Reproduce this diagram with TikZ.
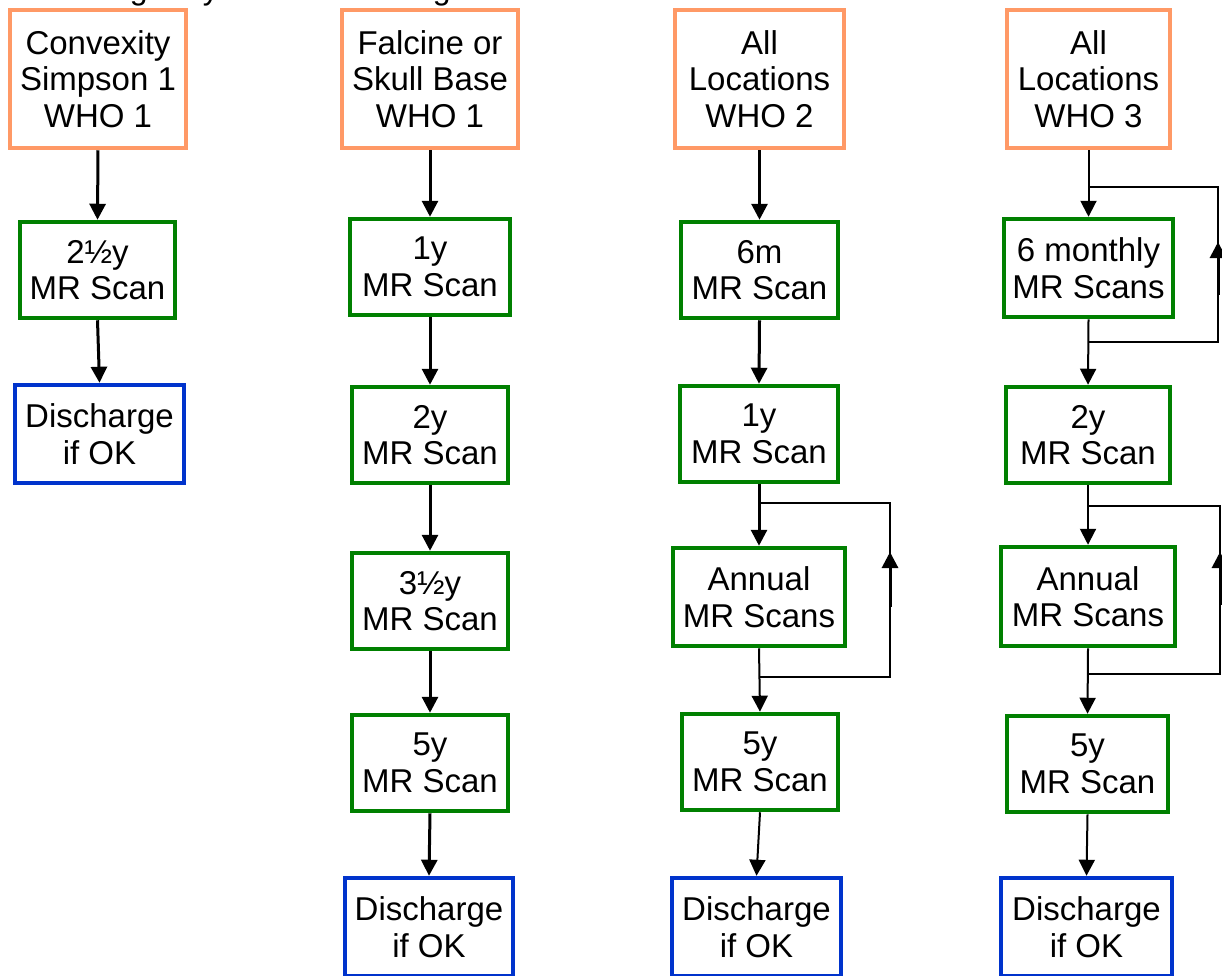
\documentclass[tikz,border=0pt]{standalone}
\usepackage{fontspec}
\setmainfont{Liberation Sans}
\usepackage{tikz}
\usetikzlibrary{
    positioning,
    arrows.meta
}
\definecolor{boxOrange}{RGB}{255, 153, 102}
\definecolor{boxGreen}{RGB}{0, 128, 0}
\definecolor{boxBlue}{RGB}{0, 51, 204}

\begin{document}
\begin{tikzpicture}[x=1pt, y=-1pt,
    box/.style={draw, line width=4.5pt, fill=white, align=center, inner sep=0pt,
        font=\fontsize{33}{36.5}\selectfont},
    orangebox/.style={box, draw=boxOrange, minimum height=138pt},
    greenbox/.style={box, draw=boxGreen, minimum height=96pt},
    bluebox/.style={box, draw=boxBlue, minimum height=98pt},
    flowarrow/.style={-{Triangle[width=16pt, length=16pt]}, line width=3pt},
    thinarrow/.style={-{Triangle[width=16pt, length=16pt]}, line width=2pt},
    loopline/.style={line width=2pt}
]
            \clip (0,0) rectangle (1222,975);
            \node[anchor=base west, inner sep=0pt, font=\fontsize{32}{36.5}\selectfont] (title) at (80,-1) {Surgically Treated Meningiomas};
            % convexity
            \node[orangebox, minimum width=176pt] (o1) at (98,79) {Convexity\\Simpson 1\\WHO 1};
            \node[greenbox, minimum width=155pt] (g1a) at (97.5,270) {2\textonehalf y\\MR Scan};
            \node[bluebox, minimum width=169pt] (b1) at (99.5,434) {Discharge\\if OK};
            \draw[flowarrow] (o1.south) -- (g1a.north);
            \draw[flowarrow] (g1a.south) -- (b1.north);
            % falcine / skull base
            \node[orangebox, minimum width=176pt] (o2) at (430,79) {Falcine or\\Skull Base\\WHO 1};
            \node[greenbox, minimum width=160pt] (g2a) at (430,267) {1y\\MR Scan};
            \node[greenbox, minimum width=156pt] (g2b) at (430,435) {2y\\MR Scan};
            \node[greenbox, minimum width=156pt] (g2c) at (430,601) {3\textonehalf y\\MR Scan};
            \node[greenbox, minimum width=156pt] (g2d) at (430,763) {5y\\MR Scan};
            \node[bluebox, minimum width=168pt] (b2) at (429,927) {Discharge\\if OK};
            \draw[flowarrow] (o2.south) -- (g2a.north);
            \draw[flowarrow] (g2a.south) -- (g2b.north);
            \draw[flowarrow] (g2b.south) -- (g2c.north);
            \draw[flowarrow] (g2c.south) -- (g2d.north);
            \draw[flowarrow] (g2d.south) -- (b2.north);
            % WHO 2
            \node[orangebox, minimum width=169pt] (o3) at (759.5,79) {All\\Locations\\WHO 2};
            \node[greenbox, minimum width=157pt] (g3a) at (759.5,270) {6m\\MR Scan};
            \node[greenbox, minimum width=158pt] (g3b) at (759,434) {1y\\MR Scan};
            \node[greenbox, minimum width=172pt, minimum height=98pt] (g3c) at (759,597) {Annual\\MR Scans};
            \node[greenbox, minimum width=156pt] (g3d) at (760,762) {5y\\MR Scan};
            \node[bluebox, minimum width=169pt] (b3) at (756.5,927) {Discharge\\if OK};
            \draw[flowarrow] (o3.south) -- (g3a.north);
            \draw[flowarrow] (g3a.south) -- (g3b.north);
            \draw[flowarrow] (g3b.south) -- (g3c.north);
            \draw[thinarrow] (g3c.south) -- (g3d.north);
            \draw[thinarrow] (g3d.south) -- (b3.north);
            \coordinate (l3a) at (759,503);
            \coordinate (l3b) at (759,677);
            \coordinate (l3r1) at (890,607);
            \coordinate (l3r2) at (890,552);
            \draw[loopline] (l3b) -| (l3r1) |- (l3a);
            \draw[flowarrow] (l3r1) -- (l3r2);
            % WHO 3
            \node[orangebox, minimum width=163pt] (o4) at (1088.5,79) {All\\Locations\\WHO 3};
            \node[greenbox, minimum width=169pt, minimum height=98pt] (g4a) at (1088.5,268) {6 monthly\\MR Scans};
            \node[greenbox, minimum width=164pt] (g4b) at (1088,435) {2y\\MR Scan};
            \node[greenbox, minimum width=174pt, minimum height=99pt] (g4c) at (1088,596.5) {Annual\\MR Scans};
            \node[greenbox, minimum width=161pt] (g4d) at (1087.5,764) {5y\\MR Scan};
            \node[bluebox, minimum width=171pt] (b4) at (1086.5,927) {Discharge\\if OK};
            \draw[thinarrow] (o4.south) -- (g4a.north);
            \draw[thinarrow] (g4a.south) -- (g4b.north);
            \draw[thinarrow] (g4b.south) -- (g4c.north);
            \draw[thinarrow] (g4c.south) -- (g4d.north);
            \draw[thinarrow] (g4d.south) -- (b4.north);
            \coordinate (l4a) at (1088,187);
            \coordinate (l4b) at (1088,342);
            \coordinate (l4r1) at (1218,295);
            \coordinate (l4r2) at (1218,242);
            \draw[loopline] (l4b) -| (l4r1) |- (l4a);
            \draw[flowarrow] (l4r1) -- (l4r2);
            \coordinate (l4c) at (1088,506);
            \coordinate (l4d) at (1088,674);
            \coordinate (l4r3) at (1220,605);
            \coordinate (l4r4) at (1220,552);
            \draw[loopline] (l4d) -| (l4r3) |- (l4c);
            \draw[flowarrow] (l4r3) -- (l4r4);
        \end{tikzpicture}
\end{document}
